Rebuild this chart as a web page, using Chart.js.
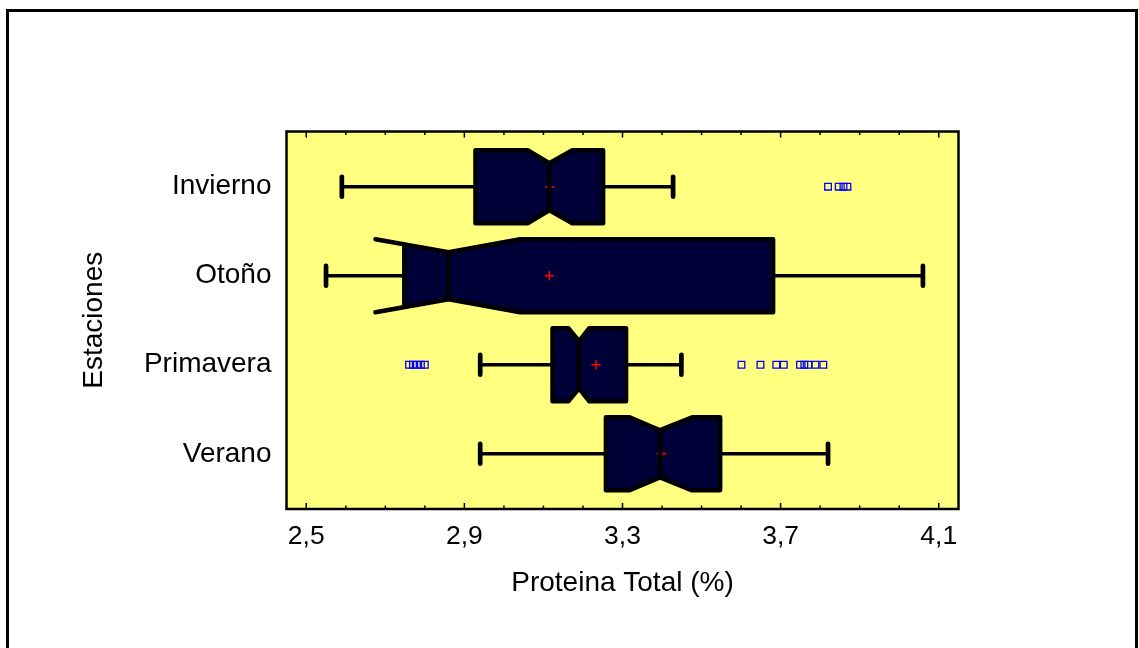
<!DOCTYPE html>
<html>
<head>
<meta charset="utf-8">
<script src="https://cdn.jsdelivr.net/npm/chart.js@4"></script>
<style>
  html, body { margin: 0; padding: 0; background: #ffffff; }
  canvas { display: block; }
</style>
</head>
<body>
<canvas id="boxChart" width="1139" height="648"></canvas>
<script>
// ---- data ----
const categories  = ['Invierno', 'Otoño', 'Primavera', 'Verano'];
const whiskerLow  = [2.59, 2.55, 2.94, 2.94];
const q1          = [2.928, 2.748, 3.123, 3.258];
const notchLow    = [3.06, 2.675, 3.163, 3.318];
const medians     = [3.115, 2.86, 3.19, 3.395];
const notchHigh   = [3.173, 3.041, 3.216, 3.476];
const q3          = [3.251, 3.681, 3.309, 3.547];
const whiskerHigh = [3.428, 4.06, 3.449, 3.82];
const means       = [3.116, 3.115, 3.233, 3.399];
const outliers = [
  [3.82, 3.847, 3.859, 3.869],
  [],
  [2.76, 2.77, 2.78, 2.79, 2.80, 3.601, 3.649, 3.689, 3.708, 3.749, 3.76, 3.77, 3.788, 3.808],
  []
];
const xTicks = [2.5, 2.9, 3.3, 3.7, 4.1];
const xMinorTicks = [2.6, 2.7, 2.8, 3.0, 3.1, 3.2, 3.4, 3.5, 3.6, 3.8, 3.9, 4.0];

const FONT = 'Liberation Sans, Arial, sans-serif';
const BOX_FILL = '#000038';
const PLOT_BG = '#ffff80';

const meanPoints = means.map((m, i) => ({ x: m, y: i + 1 }));
const outlierPoints = [];
outliers.forEach((list, i) => list.forEach(v => outlierPoints.push({ x: v, y: i + 1 })));

// ---- box drawing on top of the scales ----
function boxGeometry(chart, i) {
  const xs = chart.scales.x, ys = chart.scales.y;
  const px = v => xs.getPixelForValue(v);
  const yc = ys.getPixelForValue(i + 1);
  const unit = Math.abs(ys.getPixelForValue(2) - ys.getPixelForValue(1));
  const hb = 0.41 * unit, hn = 0.265 * unit;
  const xQ1 = px(q1[i]), xQ3 = px(q3[i]);
  const xNL = px(notchLow[i]), xNH = px(notchHigh[i]), xMed = px(medians[i]);
  const xL = Math.min(xQ1, xNL), xR = Math.max(xQ3, xNH);
  const halfAt = x => {
    if (x <= xNL || x >= xNH) return hb;
    if (x <= xMed) return hb + (hn - hb) * (x - xNL) / (xMed - xNL);
    return hn + (hb - hn) * (x - xMed) / (xNH - xMed);
  };
  return { px, yc, unit, hb, hn, xQ1, xQ3, xNL, xNH, xMed, xL, xR, halfAt };
}

function edgePath(ctx, g, sign) {
  ctx.moveTo(g.xL, g.yc + sign * g.hb);
  ctx.lineTo(g.xNL, g.yc + sign * g.hb);
  ctx.lineTo(g.xMed, g.yc + sign * g.hn);
  ctx.lineTo(g.xNH, g.yc + sign * g.hb);
  ctx.lineTo(g.xR, g.yc + sign * g.hb);
}

const boxPlugin = {
  id: 'boxPlugin',
  beforeDraw(chart) {
    const { ctx, chartArea: a } = chart;
    ctx.save();
    ctx.strokeStyle = '#000';
    ctx.lineWidth = 3;
    ctx.strokeRect(7.5, 10.5, 1129, 700);
    ctx.fillStyle = PLOT_BG;
    ctx.fillRect(a.left, a.top, a.right - a.left, a.bottom - a.top);
    ctx.restore();
  },
  beforeDatasetsDraw(chart) {
    const ctx = chart.ctx;
    categories.forEach((c, i) => {
      const g = boxGeometry(chart, i);
      ctx.save();
      ctx.beginPath();
      ctx.rect(g.xQ1, g.yc - g.hb - 1, g.xQ3 - g.xQ1, 2 * g.hb + 2);
      ctx.clip();
      ctx.beginPath();
      edgePath(ctx, g, -1);
      ctx.lineTo(g.xR, g.yc + g.hb);
      ctx.lineTo(g.xNH, g.yc + g.hb);
      ctx.lineTo(g.xMed, g.yc + g.hn);
      ctx.lineTo(g.xNL, g.yc + g.hb);
      ctx.lineTo(g.xL, g.yc + g.hb);
      ctx.closePath();
      ctx.fillStyle = BOX_FILL;
      ctx.fill();
      ctx.restore();
    });
  },
  afterDatasetsDraw(chart) {
    const { ctx, chartArea: a } = chart;
    const xs = chart.scales.x;
    ctx.save();
    ctx.strokeStyle = '#000';
    ctx.lineJoin = 'round';
    ctx.lineCap = 'round';
    categories.forEach((c, i) => {
      const g = boxGeometry(chart, i);
      // whiskers
      ctx.lineWidth = 3.5;
      ctx.beginPath();
      ctx.moveTo(g.px(whiskerLow[i]), g.yc);
      ctx.lineTo(g.xQ1, g.yc);
      ctx.moveTo(g.xQ3, g.yc);
      ctx.lineTo(g.px(whiskerHigh[i]), g.yc);
      ctx.stroke();
      const cap = 0.112 * g.unit;
      ctx.lineWidth = 4.7;
      ctx.beginPath();
      ctx.moveTo(g.px(whiskerLow[i]), g.yc - cap);
      ctx.lineTo(g.px(whiskerLow[i]), g.yc + cap);
      ctx.moveTo(g.px(whiskerHigh[i]), g.yc - cap);
      ctx.lineTo(g.px(whiskerHigh[i]), g.yc + cap);
      ctx.stroke();
      // box outline
      ctx.lineWidth = 4.5;
      ctx.beginPath();
      edgePath(ctx, g, -1);
      edgePath(ctx, g, 1);
      const h1 = g.halfAt(g.xQ1), h3 = g.halfAt(g.xQ3);
      ctx.moveTo(g.xQ1, g.yc - h1);
      ctx.lineTo(g.xQ1, g.yc + h1);
      ctx.moveTo(g.xQ3, g.yc - h3);
      ctx.lineTo(g.xQ3, g.yc + h3);
      ctx.moveTo(g.xMed, g.yc - g.hn);
      ctx.lineTo(g.xMed, g.yc + g.hn);
      ctx.stroke();
    });
    // inward tick marks on bottom and top edges
    ctx.lineCap = 'butt';
    ctx.lineWidth = 1.5;
    ctx.beginPath();
    xTicks.forEach(v => {
      const p = xs.getPixelForValue(v);
      ctx.moveTo(p, a.bottom); ctx.lineTo(p, a.bottom - 6);
      ctx.moveTo(p, a.top); ctx.lineTo(p, a.top + 6);
    });
    xMinorTicks.forEach(v => {
      const p = xs.getPixelForValue(v);
      ctx.moveTo(p, a.bottom); ctx.lineTo(p, a.bottom - 3.5);
      ctx.moveTo(p, a.top); ctx.lineTo(p, a.top + 3.5);
    });
    ctx.stroke();
    // plot frame
    ctx.lineWidth = 2.5;
    ctx.lineJoin = 'miter';
    ctx.strokeRect(a.left, a.top, a.right - a.left, a.bottom - a.top);
    ctx.restore();
  }
};

new Chart(document.getElementById('boxChart').getContext('2d'), {
  type: 'scatter',
  data: {
    datasets: [
      {
        label: 'Media',
        data: meanPoints,
        pointStyle: 'cross',
        radius: 4.7,
        borderColor: '#ff0000',
        borderWidth: 1.5,
        backgroundColor: '#ff0000'
      },
      {
        label: 'Atípicos',
        data: outlierPoints,
        pointStyle: 'rect',
        radius: 4.7,
        borderColor: '#0000ff',
        borderWidth: 1.3,
        backgroundColor: 'rgba(0,0,0,0)'
      }
    ]
  },
  options: {
    responsive: false,
    animation: false,
    devicePixelRatio: 1,
    events: [],
    layout: { padding: { top: 131.5, right: 180.5, bottom: 0, left: 0 } },
    plugins: {
      legend: { display: false },
      tooltip: { enabled: false }
    },
    scales: {
      x: {
        type: 'linear',
        min: 2.45,
        max: 4.15,
        grid: { display: false, drawTicks: false },
        border: { display: false },
        afterBuildTicks: scale => { scale.ticks = xTicks.map(v => ({ value: v })); },
        afterFit: scale => { scale.height = 139; },
        ticks: {
          padding: 12,
          color: '#000',
          font: { family: FONT, size: 26.5 },
          callback: v => v.toFixed(1).replace('.', ',')
        },
        title: {
          display: true,
          text: 'Proteina Total (%)',
          color: '#000',
          font: { family: FONT, size: 28 },
          padding: { top: 0, bottom: 48 }
        }
      },
      y: {
        type: 'linear',
        reverse: true,
        min: 0.38,
        max: 4.62,
        grid: { display: false, drawTicks: false },
        border: { display: false },
        afterBuildTicks: scale => { scale.ticks = categories.map((c, i) => ({ value: i + 1 })); },
        afterFit: scale => { scale.width = 286.5; },
        ticks: {
          padding: 15,
          color: '#000',
          font: { family: FONT, size: 28 },
          callback: v => categories[v - 1]
        },
        title: {
          display: true,
          text: 'Estaciones',
          color: '#000',
          font: { family: FONT, size: 28 },
          padding: { top: 77, bottom: 0 }
        }
      }
    }
  },
  plugins: [boxPlugin]
});
</script>
</body>
</html>
